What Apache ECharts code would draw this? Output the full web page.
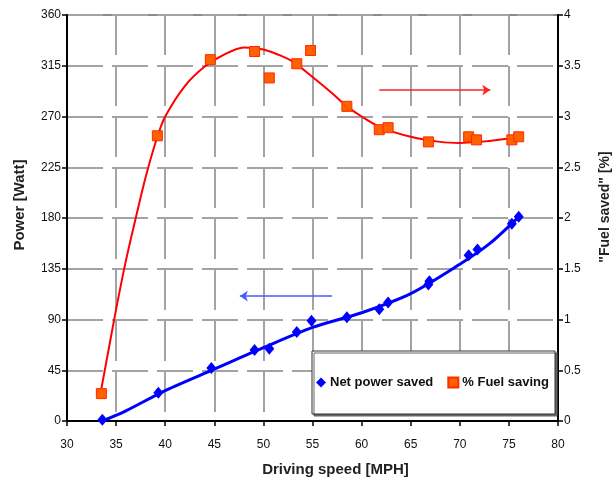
<!DOCTYPE html>
<html>
<head>
<meta charset="utf-8">
<script src="https://cdn.jsdelivr.net/npm/echarts@6/dist/echarts.min.js"></script>
<style>html,body{margin:0;padding:0;background:#fff}#c{width:614px;height:481px}</style>
</head>
<body>
<div id="c"></div>
<script>
// ---- data ----
var xTicks = [30, 35, 40, 45, 50, 55, 60, 65, 70, 75, 80];
var powerTicks = [0, 45, 90, 135, 180, 225, 270, 315, 360];
var fuelTicks = [0, 0.5, 1, 1.5, 2, 2.5, 3, 3.5, 4];

var powerSpeed = [33.6, 39.3, 44.7, 49.1, 50.6, 53.4, 54.9, 58.5, 61.8, 62.7, 66.8, 66.9, 70.9, 71.8, 75.3, 76.0];
var powerSaved = [1, 25, 47, 63, 64, 79, 89, 92, 99, 105, 121, 124, 147, 152, 175, 181];

var fuelSpeed = [33.5, 39.2, 44.6, 49.1, 50.6, 53.4, 54.8, 58.5, 61.8, 62.7, 66.8, 70.9, 71.7, 75.3, 76.0];
var fuelSaving = [0.27, 2.81, 3.56, 3.64, 3.38, 3.52, 3.65, 3.10, 2.87, 2.89, 2.75, 2.80, 2.77, 2.77, 2.80];

var powerTrendSpeed = [33.6, 36, 40, 45, 50, 55, 60, 65, 70, 73, 76];
var powerTrend = [0, 9, 27, 46, 65, 83, 96, 113, 139, 157, 181];

var fuelTrendSpeed = [33.5, 34, 35, 36, 37, 38, 39.2, 40, 42, 44, 46, 48, 50, 52, 53, 55, 57, 58.5, 60, 62, 65, 68, 70, 72, 74, 76];
var fuelTrend = [0.32, 0.58, 1.1, 1.58, 2.0, 2.4, 2.8, 3.0, 3.3, 3.49, 3.61, 3.68, 3.66, 3.59, 3.54, 3.39, 3.23, 3.10, 3.0, 2.89, 2.8, 2.75, 2.74, 2.75, 2.77, 2.8];

var seriesNames = ['Net power saved', '% Fuel saving'];
var redArrow = {from: [61.8, 3.26], to: [73.1, 3.26]};
var blueArrow = {from: [57.0, 110.8], to: [47.6, 110.8]};

function zip(a, b) { return a.map(function (v, i) { return [v, b[i]]; }); }

var FONT = 'Liberation Sans, Arial, sans-serif';
var chart = echarts.init(document.getElementById('c'), null, {renderer: 'canvas'});
chart.setOption({
  animation: false,
  backgroundColor: '#fff',
  grid: {left: 67, right: 56, top: 15, bottom: 60, containLabel: false, outerBoundsMode: 'none',
         show: true, borderColor: '#8c8c8c', borderWidth: 2, backgroundColor: 'transparent'},
  legend: {
    data: seriesNames,
    left: 312, top: 351,
    orient: 'horizontal',
    padding: [25, 6, 25, 4],
    itemWidth: 10, itemHeight: 10, itemGap: 14,
    backgroundColor: '#fff',
    borderColor: '#333', borderWidth: 1,
    shadowColor: '#666', shadowOffsetX: 2, shadowOffsetY: 2, shadowBlur: 0,
    textStyle: {fontFamily: FONT, fontWeight: 'bold', fontSize: 13, color: '#111', padding: [0, 0, 0, -1]}
  },
  xAxis: {
    type: 'value', min: xTicks[0], max: xTicks[xTicks.length - 1], interval: 5,
    name: 'Driving speed [MPH]', nameLocation: 'middle', nameGap: 41,
    nameTextStyle: {fontFamily: FONT, fontWeight: 'bold', fontSize: 15, color: '#222', padding: [0, 0, 0, 46]},
    axisLine: {show: true, onZero: false, lineStyle: {color: '#000', width: 2}},
    axisTick: {show: true, inside: false, length: 5, lineStyle: {color: '#000', width: 1.5}},
    axisLabel: {fontFamily: FONT, fontSize: 12, color: '#111', margin: 18},
    splitLine: {show: true, lineStyle: {color: '#a3a3a3', width: 2, type: [40, 11]}}
  },
  yAxis: [{
    type: 'value', min: powerTicks[0], max: powerTicks[powerTicks.length - 1], interval: 45,
    name: 'Power [Watt]', nameLocation: 'middle', nameGap: 40, nameRotate: 90,
    nameTextStyle: {fontFamily: FONT, fontWeight: 'bold', fontSize: 15, color: '#222', padding: [0, 0, 0, 26]},
    axisLine: {show: true, onZero: false, lineStyle: {color: '#000', width: 2}},
    axisTick: {show: true, inside: false, length: 5, lineStyle: {color: '#000', width: 1.5}},
    axisLabel: {fontFamily: FONT, fontSize: 12, color: '#111', margin: 6},
    splitLine: {show: true, lineStyle: {color: '#a3a3a3', width: 2, type: [36, 9]}}
  }, {
    type: 'value', position: 'right', min: fuelTicks[0], max: fuelTicks[fuelTicks.length - 1], interval: 0.5,
    name: '"Fuel saved" [%]', nameLocation: 'middle', nameGap: 40, nameRotate: 90,
    nameTextStyle: {fontFamily: FONT, fontWeight: 'bold', fontSize: 14, color: '#222', padding: [0, 0, 0, 22]},
    axisLine: {show: true, onZero: false, lineStyle: {color: '#000', width: 2}},
    axisTick: {show: true, inside: false, length: 5, lineStyle: {color: '#000', width: 1.5}},
    axisLabel: {fontFamily: FONT, fontSize: 12, color: '#111', margin: 6},
    splitLine: {show: false}
  }],
  series: [{
    name: seriesNames[0] + ' trend', type: 'line', yAxisIndex: 0, z: 3,
    data: zip(powerTrendSpeed, powerTrend), smooth: 0.3, showSymbol: false, symbol: 'none',
    lineStyle: {color: '#0000ff', width: 3},
    markLine: {
      silent: true, symbol: ['none', 'arrow'], symbolSize: [8, 8],
      label: {show: false},
      lineStyle: {color: '#4a5cff', width: 1.5, type: 'solid'},
      data: [[{coord: blueArrow.from}, {coord: blueArrow.to}]]
    }
  }, {
    name: seriesNames[1] + ' trend', type: 'line', yAxisIndex: 1, z: 3,
    data: zip(fuelTrendSpeed, fuelTrend), smooth: 0.3, showSymbol: false, symbol: 'none',
    lineStyle: {color: '#ff0000', width: 2},
    markLine: {
      silent: true, symbol: ['none', 'arrow'], symbolSize: [8, 8],
      label: {show: false},
      lineStyle: {color: '#ff2020', width: 1.5, type: 'solid'},
      data: [[{coord: redArrow.from}, {coord: redArrow.to}]]
    }
  }, {
    name: seriesNames[0], type: 'scatter', yAxisIndex: 0, z: 4,
    data: zip(powerSpeed, powerSaved), symbol: 'diamond', symbolSize: [10, 12],
    itemStyle: {color: '#0000ff', opacity: 1}
  }, {
    name: seriesNames[1], type: 'scatter', yAxisIndex: 1, z: 4,
    data: zip(fuelSpeed, fuelSaving), symbol: 'rect', symbolSize: 10,
    itemStyle: {color: '#ff6000', borderColor: '#ff2a00', borderWidth: 1, opacity: 1}
  }]
});
</script>
</body>
</html>
